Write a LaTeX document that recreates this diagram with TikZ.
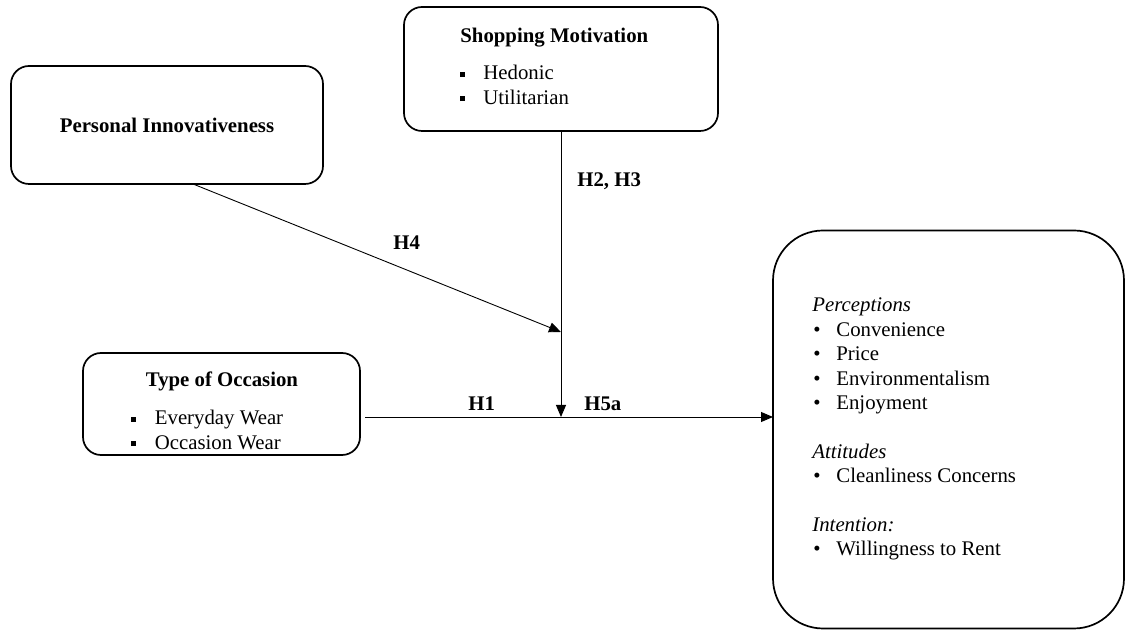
\documentclass[tikz,border=0pt]{standalone}
\usepackage{fontspec}
\setmainfont{Liberation Serif}
\usetikzlibrary{arrows.meta}

\newcommand{\sqbullet}{\makebox[11.75pt][l]{\raisebox{1.6pt}{\rule{2.5pt}{2.5pt}}}}
\newcommand{\rdbullet}{\makebox[12pt][l]{\hspace{0.5pt}\textbullet}}

\begin{document}
\begin{tikzpicture}[x=0.5pt, y=-0.5pt,
    box/.style={draw, line width=0.85pt, rounded corners=9pt, inner sep=0pt, outer sep=0pt},
    txt/.style={anchor=base west, inner sep=0pt},
    link/.style={line width=0.45pt, -{Triangle[length=6pt,width=5pt]}},
    font=\fontsize{10.4}{12.2}\selectfont]
    \useasboundingbox (0,0) rectangle (1126,630);

    % Boxes
    \node[box, minimum width=156pt, minimum height=59pt] (pers) at (167,125) {\textbf{Personal Innovativeness}};
    \node[box, minimum width=157pt, minimum height=62pt] (shop) at (561,69) {};
    \node[box, minimum width=138.5pt, minimum height=51pt] (occ) at (221.5,404) {};
    \node[box, rounded corners=25pt, minimum width=175.5pt, minimum height=199pt] (out) at (948.5,429.5) {};

    % Box texts
    \node[txt] (shoptitle) at (460,43) {\textbf{Shopping Motivation}};
    \node[txt] (shoplist) at (459.5,80) {\begin{tabular}[t]{@{}l@{}}
        \sqbullet Hedonic\\
        \sqbullet Utilitarian
    \end{tabular}};
    \node[anchor=base, inner sep=0pt] (occtitle) at (222,387) {\textbf{Type of Occasion}};
    \node[txt] (occlist) at (131,425) {\begin{tabular}[t]{@{}l@{}}
        \sqbullet Everyday Wear\\
        \sqbullet Occasion Wear
    \end{tabular}};
    \node[txt] (outlist) at (812,312) {\begin{tabular}[t]{@{}l@{}}
        \textit{Perceptions}\\
        \rdbullet Convenience\\
        \rdbullet Price\\
        \rdbullet Environmentalism\\
        \rdbullet Enjoyment\\
        \\
        \textit{Attitudes}\\
        \rdbullet Cleanliness Concerns\\
        \\
        \textit{Intention:}\\
        \rdbullet Willingness to Rent
    \end{tabular}};

    % Connectors
    \coordinate (hub) at (561,417);
    \coordinate (cross) at (561,332);
    \coordinate (pstart) at (193,184);
    \coordinate (hstart) at (365,417);
    \draw[link] (shop.south) -- (hub);
    \draw[link] (pstart) -- (cross);
    \draw[link] (hstart) -- (out.west |- hub);

    % Hypotheses
    \node[txt] (hfour) at (393,250) {\textbf{H4}};
    \node[txt] (htwo) at (577,187) {\textbf{H2, H3}};
    \node[txt] (hone) at (468,411) {\textbf{H1}};
    \node[txt] (hfive) at (584,411) {\textbf{H5a}};
\end{tikzpicture}
\end{document}
